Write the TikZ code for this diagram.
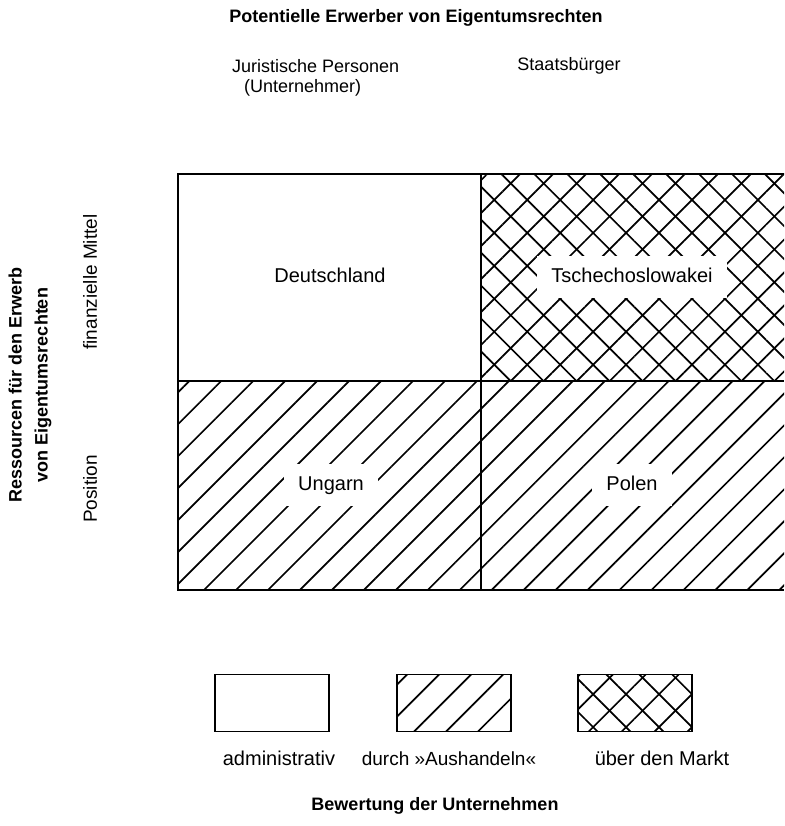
\documentclass[tikz,border=0pt]{standalone}
\usepackage{fontspec}
\setmainfont{Liberation Sans}
\usetikzlibrary{patterns.meta, positioning}

\tikzset{
	txt/.style={font=\fontsize{18}{26}\selectfont, inner sep=0pt},
	bigtxt/.style={font=\fontsize{20}{26}\selectfont, inner sep=0pt},
	head/.style={font=\fontsize{18}{26}\selectfont\bfseries, inner sep=0pt, align=center},
	frame/.style={line width=2.4pt},
	hatched/.style={pattern={Lines[angle=45, distance=22.6pt, line width=1.7pt]}},
	crossed/.style={pattern={Lines[angle=45, distance=23.3pt, line width=1.7pt]},
		postaction={pattern={Lines[angle=-45, distance=23.3pt, line width=1.7pt]}}},
	celllabel/.style={bigtxt, fill=white, inner xsep=14pt, inner ysep=12pt, text height=14pt, text depth=4pt},
	legbox/.style={draw, line width=1.8pt, minimum width=114pt, minimum height=57pt, inner sep=0pt}
}

\begin{document}
\begin{tikzpicture}[x=1pt, y=-1pt]
	\useasboundingbox (0,0) rectangle (784,826);
	
	%corners of the field
	\coordinate (nw) at (178,174);
	\coordinate (sw) at (178,590);
	\coordinate (ne) at (784,174);
	\coordinate (se) at (784,590);
	\coordinate (n) at (481,174);
	\coordinate (s) at (481,590);
	\coordinate (w) at (178,381);
	\coordinate (e) at (784,381);
	
	%fillings
	\fill [hatched] (w) rectangle (se);
	\fill [crossed] (n) rectangle (e);
	
	%grid
	\draw [frame] (ne) -- (nw) -- (sw) -- (se);
	\draw [frame] (n) -- (s);
	\draw [frame] (w) -- (e);
	
	%countries
	\node [celllabel] (de) at (330,277) {Deutschland};
	\node [celllabel] (cs) at (632,277) {Tschechoslowakei};
	\node [celllabel] (hu) at (331,485) {Ungarn};
	\node [celllabel] (pl) at (632,485) {Polen};
	
	%axis on top
	\node [head] (buyers) at (416,18) {Potentielle Erwerber von Eigentumsrechten};
	\node [txt, anchor=west] (jur) at (232,66) {Juristische Personen};
	\node [txt, anchor=west] (unt) at (244,88) {(Unternehmer)};
	\node [txt] (cit) at (569,66) {Staatsbürger};
	
	%axis on the left
	\node [head, rotate=90] (res) at (30,385) {Ressourcen für den Erwerb\\von Eigentumsrechten};
	\node [txt, font=\fontsize{19}{26}\selectfont, rotate=90] (fin) at (90,282) {finanzielle Mittel};
	\node [txt, font=\fontsize{19}{26}\selectfont, rotate=90] (pos) at (90,489) {Position};
	
	%legend
	\node [legbox] (adm) at (272,703) {};
	\node [legbox, hatched] (neg) at (454,703) {};
	\node [legbox, crossed] (mkt) at (635,703) {};
	\node [bigtxt, anchor=base] (admtxt) at (279,765) {administrativ};
	\node [txt, font=\fontsize{19}{26}\selectfont, anchor=base] (negtxt) at (449,765) {durch »Aushandeln«};
	\node [bigtxt, anchor=base] (mkttxt) at (662,765) {über den Markt};
	\node [head] (val) at (435,806) {Bewertung der Unternehmen};
\end{tikzpicture}
\end{document}
